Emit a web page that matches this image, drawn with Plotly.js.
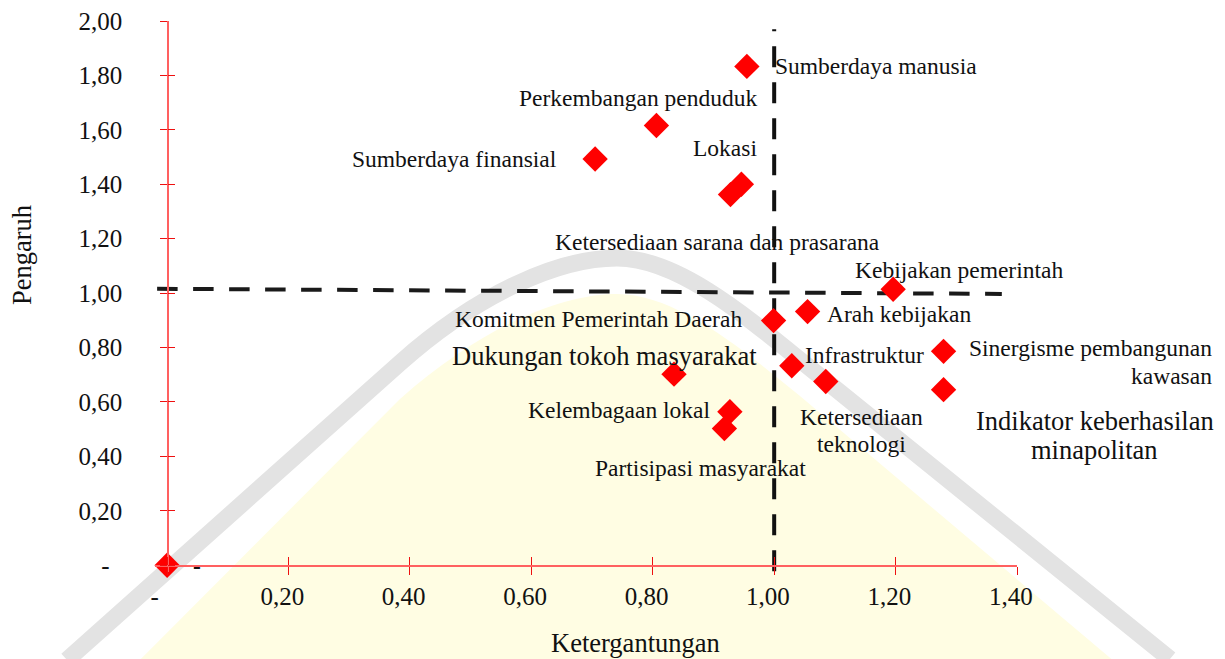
<!DOCTYPE html>
<html>
<head>
<meta charset="utf-8">
<script src="https://cdn.plot.ly/plotly-3.0.1.min.js"></script>
<style>html,body{margin:0;padding:0;background:#fff;}#chart{width:1225px;height:659px;}</style>
</head>
<body>
<div id="chart"></div>
<script>
// ---------- data ----------
const categories = [
  "-",
  "Sumberdaya manusia",
  "Perkembangan penduduk",
  "Sumberdaya finansial",
  "Lokasi",
  "Ketersediaan sarana dan prasarana",
  "Kebijakan pemerintah",
  "Arah kebijakan",
  "Komitmen Pemerintah Daerah",
  "Dukungan tokoh masyarakat",
  "Infrastruktur",
  "Kelembagaan lokal",
  "Partisipasi masyarakat",
  "Ketersediaan<br>teknologi",
  "Sinergisme pembangunan<br>kawasan",
  "Indikator keberhasilan<br>minapolitan"
];
const ketergantungan = [0, 0.955, 0.806, 0.705, 0.946, 0.928, 1.196, 1.055, 0.999, 0.835, 1.029, 0.927, 0.918, 1.085, 1.279, 1.279];
const pengaruh      = [0, 1.833, 1.616, 1.493, 1.400, 1.362, 1.014, 0.932, 0.899, 0.702, 0.733, 0.564, 0.502, 0.675, 0.786, 0.645];

const xTickVals = [0, 0.2, 0.4, 0.6, 0.8, 1.0, 1.2, 1.4];
const xTickText = ["-", "0,20", "0,40", "0,60", "0,80", "1,00", "1,20", "1,40"];
const yTickVals = [0, 0.2, 0.4, 0.6, 0.8, 1.0, 1.2, 1.4, 1.6, 1.8, 2.0];
const yTickText = ["-", "0,20", "0,40", "0,60", "0,80", "1,00", "1,20", "1,40", "1,60", "1,80", "2,00"];

// cut-off lines (quadrant dividers)
const vLineX = [1.0, 1.0];
const vLineY = [-0.022, 1.970];
const hLineX = [-0.0165, 1.375];
const hLineY = [1.016, 0.997];

const xTitle = "Ketergantungan";
const yTitle = "Pengaruh";

// ---------- layout helpers ----------
const W = 1225, H = 659;
const M = {l: 155, r: 208, t: 21, b: 87};
const xRange = [-0.02, 1.4];
const yRange = [-0.025, 2.0];
const px2x = p => (p - M.l) / (W - M.l - M.r);
const py2y = p => (H - M.b - p) / (H - M.t - M.b);
const NB = "\u00a0";
const FONT = "'Liberation Serif', 'Times New Roman', serif";
const TXT = "#111";

// label placement: [xanchor, dx(px), dy(px, down), size, align, lineGap]
const labelPos = [
  ["center", 30, 1, 23.5, "center", 0],
  ["left", 26, 0, 23.5, "left", 0],
  ["right", 103, -27, 23.5, "right", 0],
  ["right", -36, 0, 23.5, "right", 0],
  ["right", 18, -36, 23.5, "right", 0],
  ["center", -13, 47, 23.5, "center", 0],
  ["left", -40, -19, 23.5, "left", 0],
  ["left", 17, 2, 23.5, "left", 0],
  ["right", -30, -2, 23.5, "right", 0],
  ["right", 85, -18, 26.5, "right", 0],
  ["left", 11, -11, 23.5, "left", 0],
  ["right", -17, -2, 23.5, "right", 0],
  ["left", -131, 39, 23.5, "left", 0],
  ["center", 36, 49, 23.5, "center", 27],
  ["right", 270, 10.5, 23.5, "right", 27.7],
  ["center", 151, 46, 26.5, "center", 29.5]
];

const annotations = [];
categories.forEach((name, i) => {
  const [xa, dx, dy, sz, al, gap] = labelPos[i];
  const lines = name.split("<br>");
  const n = lines.length;
  lines.forEach((ln, k) => {
    const off = (k - (n - 1) / 2) * gap;
    annotations.push({
      x: ketergantungan[i], y: pengaruh[i], xref: "x", yref: "y",
      text: ln, showarrow: false, xanchor: xa, yanchor: "middle", align: al,
      xshift: dx, yshift: -(dy + off),
      font: {family: FONT, size: sz, color: TXT, weight: i === 0 ? "bold" : "normal"}
    });
  });
});
annotations.push({
  xref: "paper", yref: "paper", x: px2x(22), y: py2y(255), text: yTitle, textangle: -90,
  showarrow: false, xanchor: "center", yanchor: "middle", font: {family: FONT, size: 26.5, color: TXT}
});
annotations.push({
  xref: "paper", yref: "paper", x: px2x(635.5), y: py2y(643), text: xTitle,
  showarrow: false, xanchor: "center", yanchor: "middle", font: {family: FONT, size: 26.5, color: TXT}
});

// watermark-like background (decorative)
function path(cmds) {
  return cmds.map(c => {
    if (typeof c === "string") return c;
    return px2x(c[0]).toFixed(5) + "," + py2y(c[1]).toFixed(5);
  }).join(" ");
}
const outline = ["M", [67, 660], "L", [400, 363], "C", [480, 292], [560, 258], [617, 258],
  "C", [675, 258], [740, 311], [800, 360], "L", [1170, 659]];
const inner = ["M", [100, 700], "L", [400, 399], "C", [480, 328], [560, 294], [617, 294],
  "C", [675, 294], [740, 347], [800, 396], "L", [1160, 700], "Z"];
const shapes = [
  {type: "path", xref: "paper", yref: "paper", path: path(inner), fillcolor: "#fffde3",
   line: {width: 0}, layer: "below"},
  {type: "path", xref: "paper", yref: "paper", path: path(outline), fillcolor: "rgba(0,0,0,0)",
   line: {color: "#e3e3e3", width: 17}, layer: "below"}
];

const traces = [
  {x: vLineX, y: vLineY, mode: "lines", line: {color: "#111", width: 4, dash: "21px,15px"},
   hoverinfo: "skip", showlegend: false},
  {x: hLineX, y: hLineY, mode: "lines", line: {color: "#1a1a1a", width: 4, dash: "20.5px,15.5px"},
   hoverinfo: "skip", showlegend: false},
  {x: ketergantungan, y: pengaruh, text: categories, mode: "markers", type: "scatter",
   marker: {symbol: "diamond", size: 19.5, color: "#ff0000", line: {width: 0}},
   cliponaxis: false, showlegend: false},
  {x: [null], y: [null], xaxis: "x2", yaxis: "y2", mode: "markers", showlegend: false, hoverinfo: "skip"}
];

const xPos = (0 - yRange[0]) / (yRange[1] - yRange[0]);
const yPos = (0 - xRange[0]) / (xRange[1] - xRange[0]);
const axCommon = {
  showgrid: false, zeroline: false, showline: true, linecolor: "#ff6060", linewidth: 1.5,
  tickcolor: "#ee1111", tickwidth: 1, tickmode: "array",
  tickfont: {family: FONT, size: 25, color: TXT}
};
const layout = {
  width: W, height: H, margin: M, paper_bgcolor: "#fff", plot_bgcolor: "rgba(0,0,0,0)",
  showlegend: false,
  xaxis: Object.assign({}, axCommon, {
    range: xRange, anchor: "free", position: xPos, tickvals: xTickVals,
    ticktext: xTickText.map((t, i) => t + (i === 0 ? NB + NB + NB + NB : NB + NB)),
    ticks: "outside", ticklen: 8, ticklabelstandoff: 0
  }),
  yaxis: Object.assign({}, axCommon, {
    range: yRange, anchor: "free", position: yPos, tickvals: yTickVals,
    ticktext: yTickText.map((t, i) => t + (i === 0 ? NB + NB : "")),
    ticks: "outside", ticklen: 7, ticklabelstandoff: 33
  }),
  xaxis2: {overlaying: "x", anchor: "free", position: xPos, range: xRange, showgrid: false, zeroline: false,
    showline: false, tickmode: "array", tickvals: xTickVals, ticks: "inside", ticklen: 8,
    tickcolor: "#ee1111", tickwidth: 1, showticklabels: false},
  yaxis2: {overlaying: "y", anchor: "free", position: yPos, range: yRange, showgrid: false, zeroline: false,
    showline: false, tickmode: "array", tickvals: yTickVals, ticks: "inside", ticklen: 7,
    tickcolor: "#ee1111", tickwidth: 1, showticklabels: false},
  annotations: annotations,
  shapes: shapes
};

Plotly.newPlot("chart", traces, layout, {displayModeBar: false, staticPlot: true});
</script>
</body>
</html>
